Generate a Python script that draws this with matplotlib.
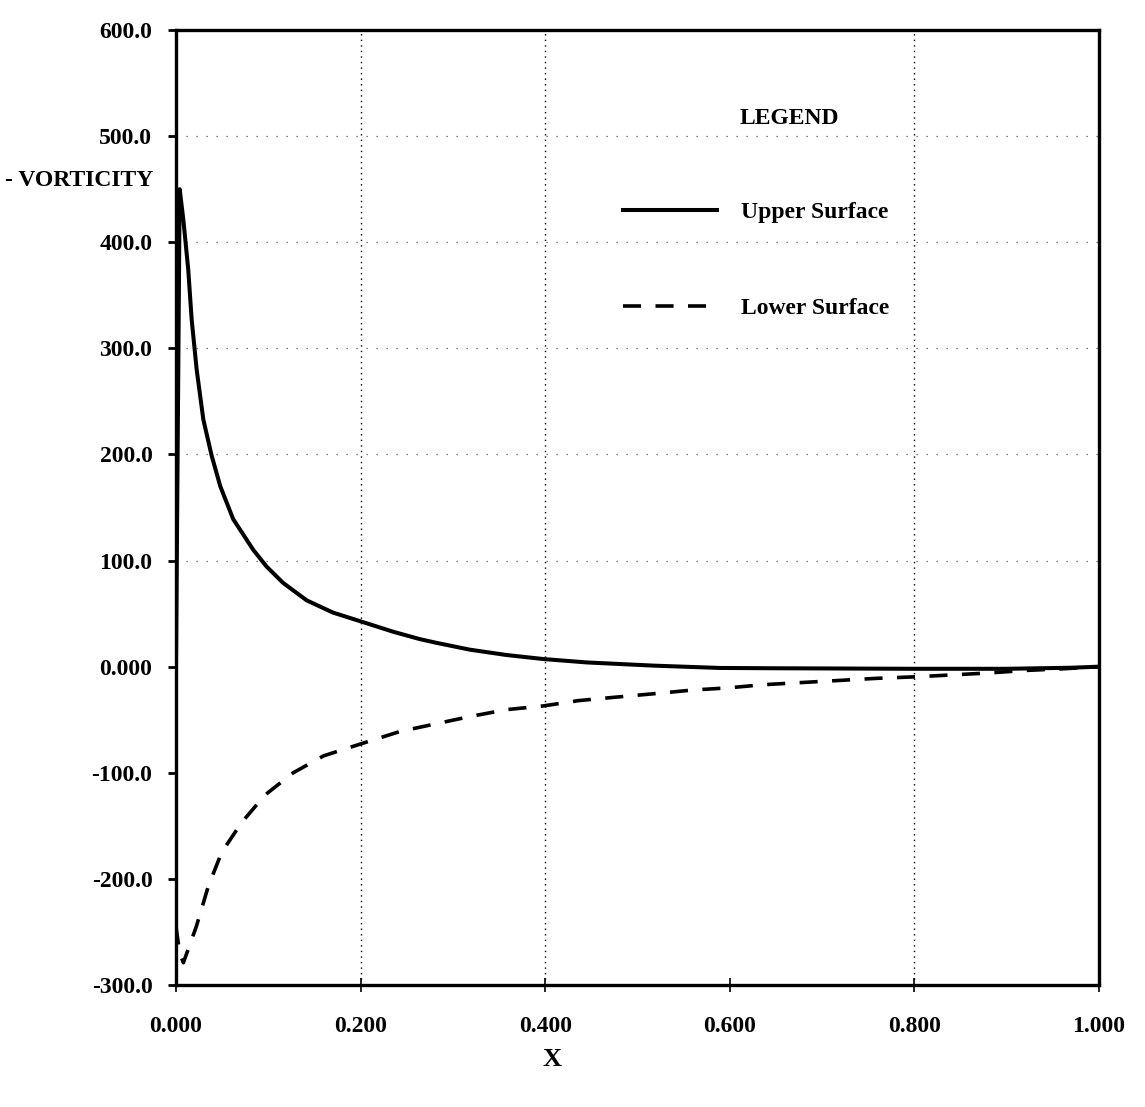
import matplotlib
matplotlib.use('Agg')
import matplotlib.pyplot as plt

# ---- data ----
upper_x = [0.0, 0.004, 0.008, 0.0133, 0.017, 0.0224, 0.0296, 0.0386, 0.048, 0.062,
           0.0838, 0.098, 0.116, 0.1416, 0.17, 0.199, 0.235, 0.264, 0.282, 0.3185,
           0.358, 0.398, 0.445, 0.517, 0.589, 0.651, 0.8, 0.9, 0.97, 1.0]
upper_y = [0, 450, 421, 374, 327, 280, 233, 199, 170, 139,
           110, 94.5, 79, 62.5, 51, 43, 33, 26, 22.5, 16,
           11, 7.2, 4, 1, -1.2, -1.5, -2, -2, -1, 0]

lower_x = [0.0, 0.004, 0.008, 0.022, 0.035, 0.0495, 0.071, 0.0964, 0.127, 0.16,
           0.203, 0.243, 0.3185, 0.358, 0.398, 0.436, 0.478, 0.519, 0.56, 0.598,
           0.636, 0.759, 0.803, 0.879, 0.922, 0.961, 1.0]
lower_y = [-245, -270, -279, -245, -207, -175, -147, -121, -100, -84,
           -72, -61, -47, -40.5, -37, -32, -28.6, -25.4, -22, -20,
           -17, -11, -9.5, -6, -3.5, -2, 0]

x_ticks = [0.0, 0.2, 0.4, 0.6, 0.8, 1.0]
x_labels = ['0.000', '0.200', '0.400', '0.600', '0.800', '1.000']
y_ticks = [-300, -200, -100, 0, 100, 200, 300, 400, 500, 600]
y_labels = ['-300.0', '-200.0', '-100.0', '0.000', '100.0', '200.0',
            '300.0', '400.0', '500.0', '600.0']
vgrid = [0.2, 0.4, 0.8]
hgrid = [100, 200, 300, 400, 500]

FONT = 'Liberation Serif'
FS = 17

fig = plt.figure(figsize=(11.45, 11.07), dpi=100)
ax = fig.add_axes([0.1537, 0.1102, 0.8061, 0.8627])

# dotted grid (sparse, like the scan)
ax.vlines(vgrid, -300, 600, colors='black', linestyles=(0, (1, 3)), linewidth=1.0)
ax.hlines(hgrid, 0, 1, colors='#555555', linestyles=(0, (1, 7)), linewidth=0.9)

ax.plot(upper_x, upper_y, color='black', lw=2.9, solid_joinstyle='round',
        label='Upper Surface')
ax.plot(lower_x, lower_y, color='black', lw=2.6, linestyle=(0, (5, 4)),
        label='Lower Surface')

ax.set_xlim(0, 1)
ax.set_ylim(-300, 600)
ax.set_xticks(x_ticks)
ax.set_xticklabels(x_labels)
ax.set_yticks(y_ticks)
ax.set_yticklabels(y_labels)

for s in ax.spines.values():
    s.set_linewidth(2.4)

ax.tick_params(axis='y', direction='out', length=6, width=2, pad=11,
               labelsize=FS)
ax.tick_params(axis='x', direction='inout', length=10, width=1.2, pad=17,
               labelsize=FS)
for lab in ax.get_xticklabels() + ax.get_yticklabels():
    lab.set_fontfamily(FONT)
    lab.set_fontweight('bold')

# legend block
ax.text(0.611, 517, 'LEGEND', fontsize=FS, family=FONT, weight='bold',
        va='center', ha='left')
leg = ax.legend(loc='upper left', bbox_to_anchor=(0.484, 0.82), frameon=False,
                handlelength=4.0, handletextpad=1.0, labelspacing=3.15,
                borderpad=0, borderaxespad=0,
                prop={'family': FONT, 'size': FS, 'weight': 'bold'})

fig.text(5 / 1145, 1 - 180 / 1107, '- VORTICITY', fontsize=FS, family=FONT,
         weight='bold', ha='left', va='center')
fig.text(552 / 1145, 1 - 1060 / 1107, 'X', fontsize=19, family=FONT,
         weight='bold', ha='center', va='center')

fig.savefig('out.png', dpi=100)
